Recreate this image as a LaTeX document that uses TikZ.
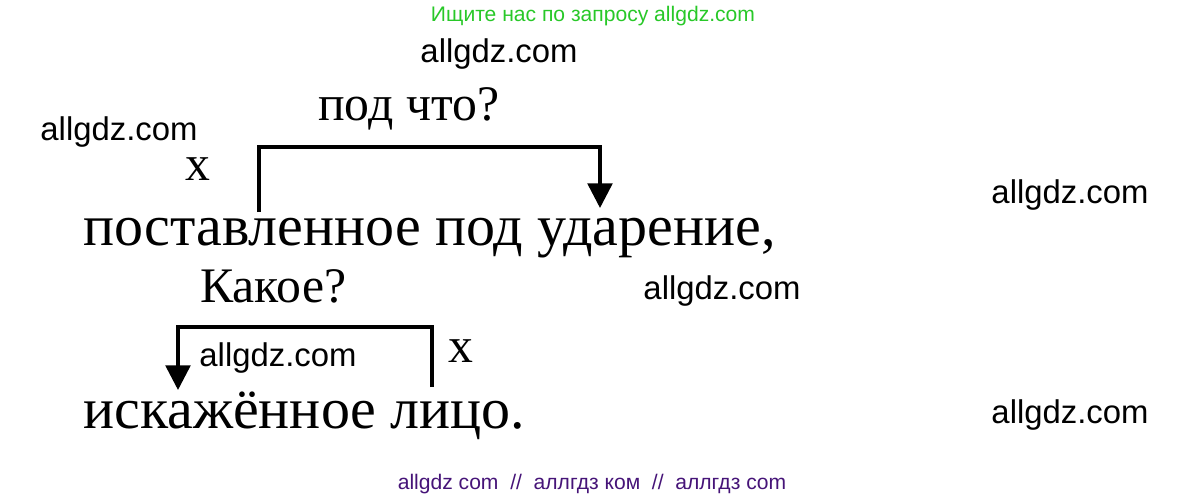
\documentclass[tikz,border=0pt]{standalone}
\usepackage{fontspec}
\setmainfont{Liberation Serif}
\setsansfont{Liberation Sans}
\usetikzlibrary{arrows.meta}
\definecolor{wmgreen}{RGB}{40,200,40}
\definecolor{wmpurple}{RGB}{70,20,120}
\tikzset{
  word/.style={inner sep=0,anchor=base west,font=\fontsize{33}{38}\selectfont},
  quest/.style={inner sep=0,anchor=base west,font=\fontsize{28.3}{32}\selectfont},
  wm/.style={inner sep=0,font=\sffamily\fontsize{18.7}{21}\selectfont},
  link/.style={line width=2pt,-{Triangle[length=14pt,width=14pt]}}
}
\begin{document}
\begin{tikzpicture}[x=0.02cm,y=-0.02cm]
\useasboundingbox(0,0)rectangle(1187,501);
\node[word](L1)at(83,245){поставленное под ударение,};
\node[word](L2)at(83,428){искажённое лицо.};
\node[quest](Q1)at(318,120){под что?};
\node[quest](Q2)at(200,302){Какое?};
\node[quest](X1)at(185,180){x};
\node[quest](X2)at(448,362){x};
\coordinate(B1)at(259,212);
\coordinate(B2)at(259,147);
\coordinate(B3)at(600,147);
\coordinate(B4)at(600,208);
\coordinate(C1)at(432,387);
\coordinate(C2)at(432,327);
\coordinate(C3)at(178,327);
\coordinate(C4)at(178,390);
\draw[link](B1)--(B2)--(B3)--(B4);
\draw[link](C1)--(C2)--(C3)--(C4);
% watermarks
\node[wm](W1)at(119,132){allgdz.com};
\node[wm](W2)at(499,54){allgdz.com};
\node[wm](W3)at(1070,195){allgdz.com};
\node[wm](W4)at(722,291){allgdz.com};
\node[wm](W5)at(278,358){allgdz.com};
\node[wm](W6)at(1070,415){allgdz.com};
\node[wm,font=\sffamily\fontsize{12}{14}\selectfont,text=wmgreen](T1)at(593,16){Ищите нас по запросу allgdz.com};
\node[wm,font=\sffamily\fontsize{12}{14}\selectfont,text=wmpurple](T2)at(592,484){allgdz com\ \ //\ \ аллгдз ком\ \ //\ \ аллгдз com};
\end{tikzpicture}
\end{document}
